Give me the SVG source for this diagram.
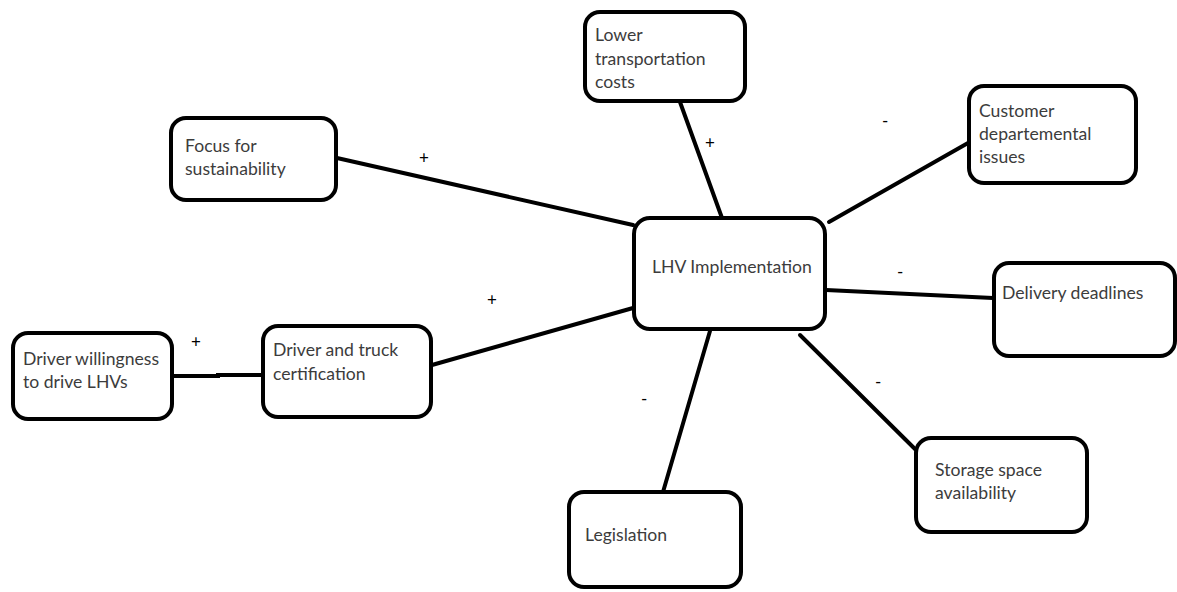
<svg xmlns="http://www.w3.org/2000/svg" width="1177" height="592" viewBox="0 0 1177 592">
<style>
.box{fill:#fff;stroke:#000;stroke-width:4}
.t{font-family:Lato,"Open Sans","Liberation Sans",sans-serif;font-size:17.6px;fill:#3c3c3c}
.sign{font-family:Lato,"Liberation Sans",sans-serif;font-size:17px;fill:#000}
.c{stroke:#000;stroke-width:4;fill:none;stroke-linecap:round}
</style>
<rect width="1177" height="592" fill="#fff"/>
<g id="connectors">
<line class="c" x1="680" y1="102" x2="722" y2="218"/>
<line class="c" x1="337" y1="158" x2="633" y2="225"/>
<polyline class="c" points="173,376 218,376 218,375 262,375"/>
<line class="c" x1="432" y1="365" x2="633" y2="308"/>
<line class="c" x1="968" y1="143" x2="829" y2="222"/>
<line class="c" x1="826" y1="290" x2="993" y2="298"/>
<line class="c" x1="663" y1="492" x2="710" y2="331"/>
<line class="c" x1="800" y1="335" x2="916" y2="450"/>
<text class="sign" x="705" y="149">+</text>
<text class="sign" x="419" y="164">+</text>
<text class="sign" x="191" y="348">+</text>
<text class="sign" x="487" y="306">+</text>
<text class="sign" x="882" y="127">-</text>
<text class="sign" x="897" y="278">-</text>
<text class="sign" x="641" y="405">-</text>
<text class="sign" x="875" y="388">-</text>
</g>
<g id="center">
<rect class="box" x="634" y="218" width="191" height="111" rx="16"/>
<text class="t" x="652" y="273">LHV Implementation</text>
</g>
<g id="lower">
<rect class="box" x="585" y="12" width="160" height="89" rx="15"/>
<text class="t" x="595" y="41">Lower</text>
<text class="t" x="595" y="65">transportation</text>
<text class="t" x="595" y="88">costs</text>
</g>
<g id="focus">
<rect class="box" x="171" y="118" width="165" height="82" rx="15"/>
<text class="t" x="185" y="152">Focus for</text>
<text class="t" x="185" y="175">sustainability</text>
</g>
<g id="willingness">
<rect class="box" x="13" y="333" width="159" height="86" rx="15"/>
<text class="t" x="23" y="365">Driver willingness</text>
<text class="t" x="23" y="388">to drive LHVs</text>
</g>
<g id="certification">
<rect class="box" x="263" y="326" width="168" height="91" rx="15"/>
<text class="t" x="273" y="356">Driver and truck</text>
<text class="t" x="273" y="380">certification</text>
</g>
<g id="customer">
<rect class="box" x="969" y="86" width="167" height="97" rx="15"/>
<text class="t" x="979" y="117">Customer</text>
<text class="t" x="979" y="140">departemental</text>
<text class="t" x="979" y="163">issues</text>
</g>
<g id="delivery">
<rect class="box" x="994" y="263" width="181" height="93" rx="15"/>
<text class="t" x="1002" y="299">Delivery deadlines</text>
</g>
<g id="legislation">
<rect class="box" x="569" y="492" width="172" height="95" rx="15"/>
<text class="t" x="585" y="541">Legislation</text>
</g>
<g id="storage">
<rect class="box" x="916" y="438" width="171" height="94" rx="15"/>
<text class="t" x="935" y="476">Storage space</text>
<text class="t" x="935" y="499">availability</text>
</g>
</svg>
